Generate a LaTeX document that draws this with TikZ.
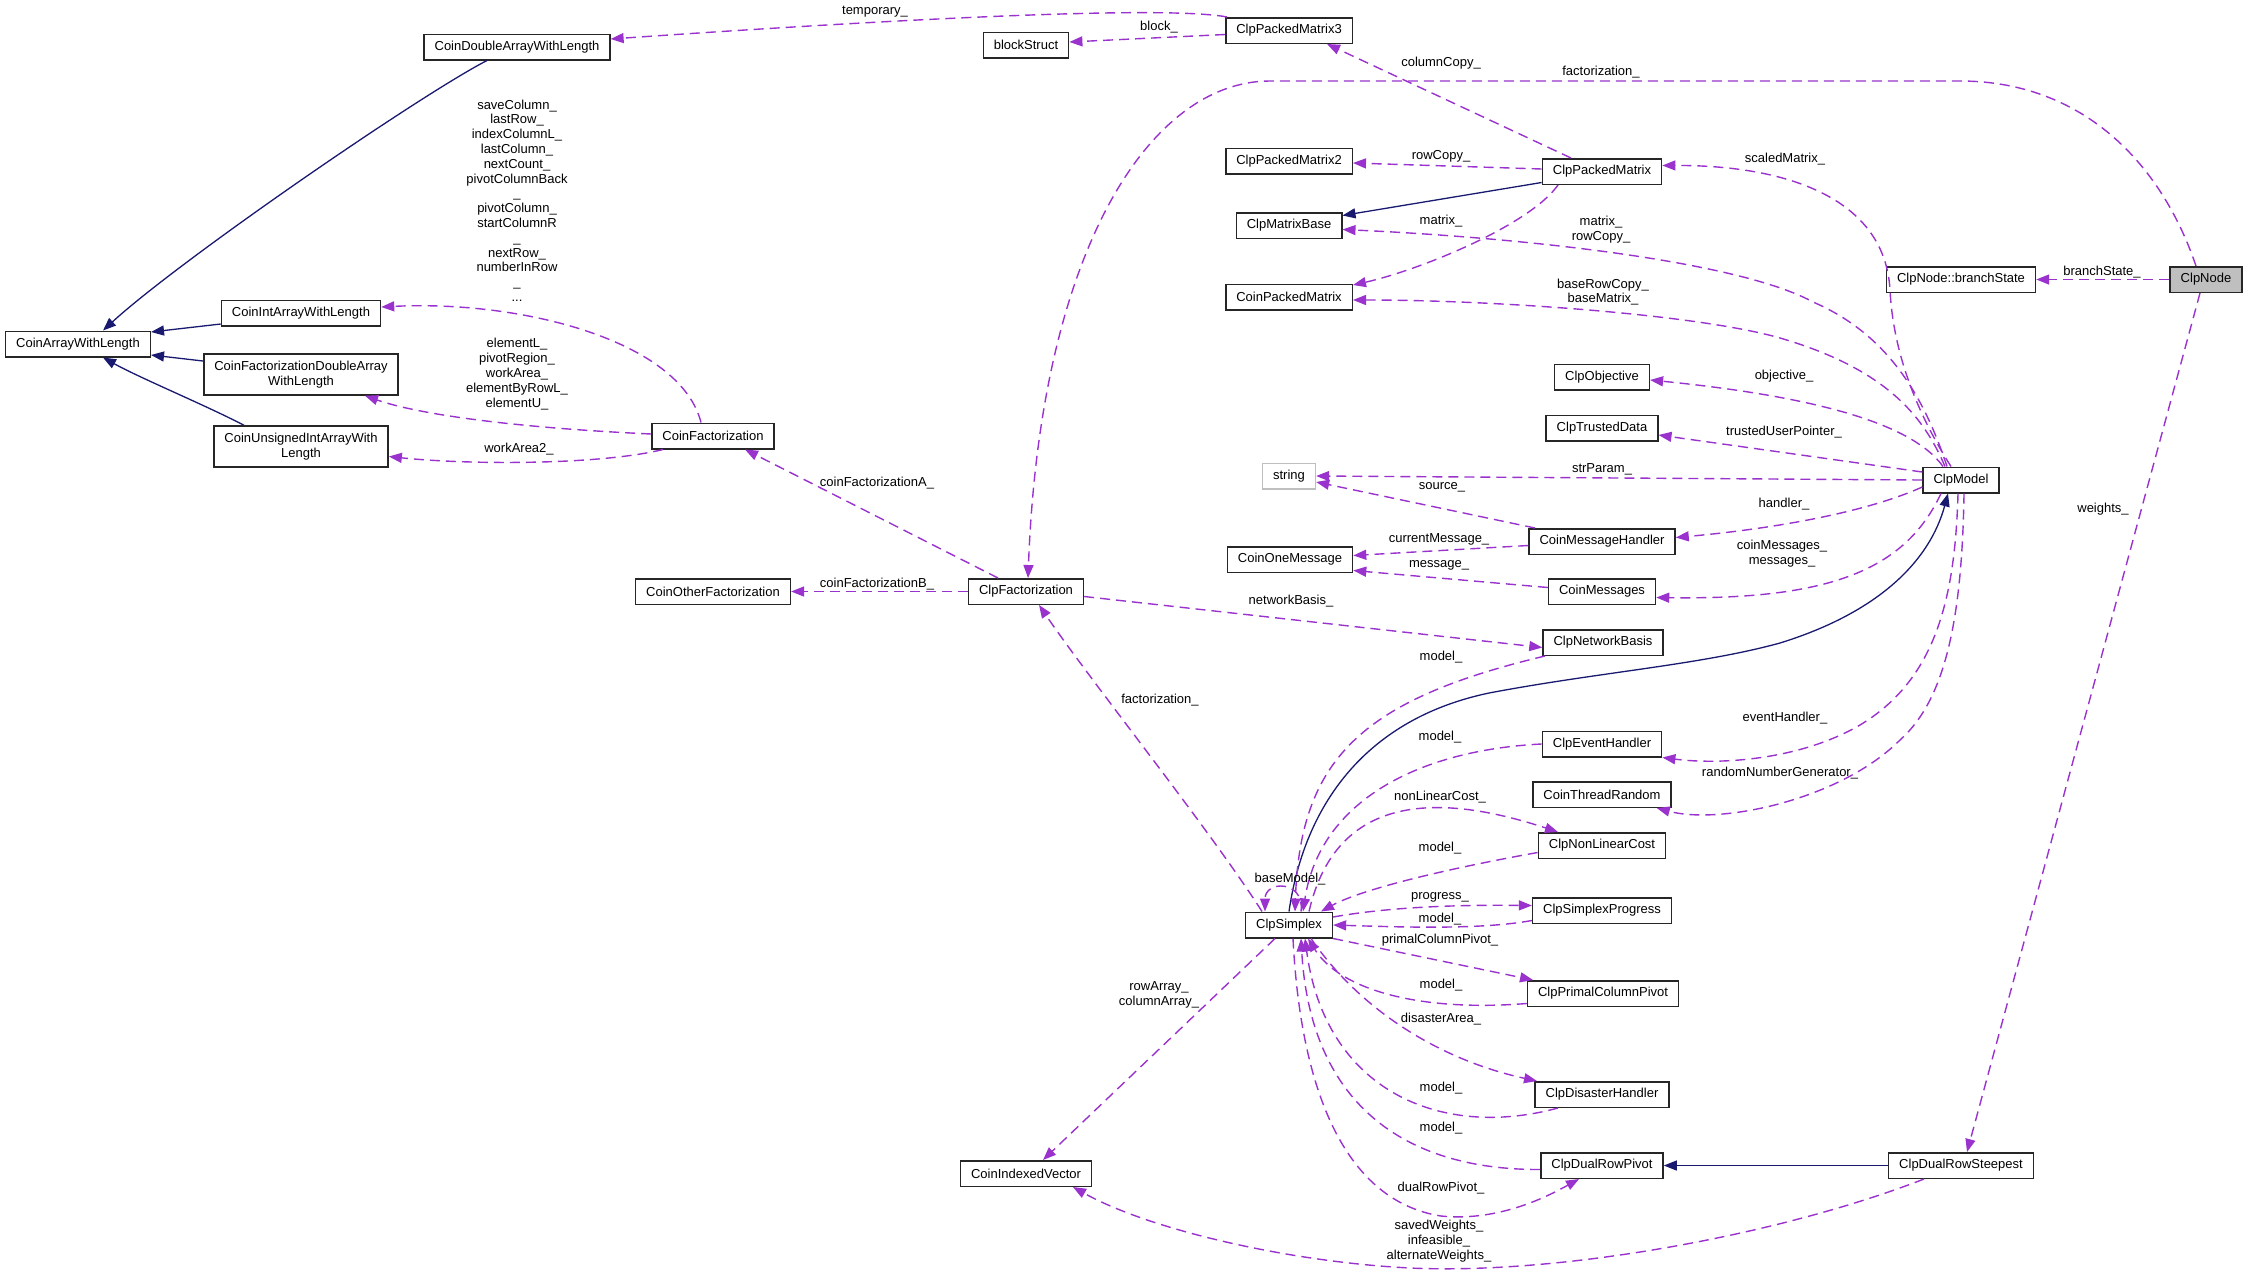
\documentclass[tikz,border=0pt]{standalone}
\usepackage{fontspec}
\setmainfont{Liberation Sans}
\usepackage{xcolor}
\usepackage{tikz}
\usetikzlibrary{arrows.meta}
\definecolor{dxpurple}{RGB}{154,50,205}
\definecolor{dxnavy}{RGB}{25,25,112}
\definecolor{dxgray}{RGB}{191,191,191}

\begin{document}
\begin{tikzpicture}[x=1pt, y=-1pt,
      cls/.style={draw=black!85, line width=1.5pt, fill=white,
                  font=\fontsize{13}{14.5}\selectfont, align=center,
                  inner xsep=10.5pt, inner ysep=0pt, minimum height=25.5pt},
      ext/.style={cls, draw=dxgray},
      cur/.style={cls, fill=dxgray},
      lbl/.style={font=\fontsize{13}{14.8}\selectfont, align=center, inner sep=0pt},
      inh/.style={-{Triangle[length=13pt,width=10pt]}, line width=1.3pt, color=dxnavy},
      mem/.style={-{Triangle[length=13pt,width=10pt]}, line width=1.4pt, color=dxpurple,
                  dash pattern=on 10pt off 6pt, text=black}
  ]
    \useasboundingbox (0,0) rectangle (2248,1275);
    \node[cls] (cawl) at (78,344) {CoinArrayWithLength};
    \node[cls] (cdawl) at (517,47) {CoinDoubleArrayWithLength};
    \node[cls] (ciawl) at (301,313) {CoinIntArrayWithLength};
    \node[cls, minimum height=41pt] (cfdawl) at (301,374.5) {CoinFactorizationDoubleArray\\WithLength};
    \node[cls, minimum height=41pt] (cuiawl) at (301,446.5) {CoinUnsignedIntArrayWith\\Length};
    \node[cls] (cf) at (713,436) {CoinFactorization};
    \node[cls] (cof) at (713,591.5) {CoinOtherFactorization};
    \node[cls] (clpf) at (1026,591.5) {ClpFactorization};
    \node[cls] (bs) at (1026,45) {blockStruct};
    \node[cls] (civ) at (1026,1173.5) {CoinIndexedVector};
    \node[cls] (pm3) at (1289,30.5) {ClpPackedMatrix3};
    \node[cls] (pm2) at (1289,161) {ClpPackedMatrix2};
    \node[cls] (mb) at (1289,225.5) {ClpMatrixBase};
    \node[cls] (cpm) at (1289,297) {CoinPackedMatrix};
    \node[ext] (str) at (1289,476) {string};
    \node[cls] (com) at (1290,559.5) {CoinOneMessage};
    \node[cls] (simplex) at (1289,925) {ClpSimplex};
    \node[cls] (pm) at (1602,171.5) {ClpPackedMatrix};
    \node[cls] (obj) at (1602,377) {ClpObjective};
    \node[cls] (trust) at (1602,428) {ClpTrustedData};
    \node[cls] (cmh) at (1602,541.5) {CoinMessageHandler};
    \node[cls] (cms) at (1602,591.5) {CoinMessages};
    \node[cls] (nb) at (1603,642.5) {ClpNetworkBasis};
    \node[cls] (eh) at (1602,744) {ClpEventHandler};
    \node[cls] (ctr) at (1602,794.5) {CoinThreadRandom};
    \node[cls] (nlc) at (1602,845.5) {ClpNonLinearCost};
    \node[cls] (sp) at (1602,910.5) {ClpSimplexProgress};
    \node[cls] (pcp) at (1603,993.5) {ClpPrimalColumnPivot};
    \node[cls] (dh) at (1602,1094.5) {ClpDisasterHandler};
    \node[cls] (drp) at (1602,1165.5) {ClpDualRowPivot};
    \node[cls] (model) at (1961,480) {ClpModel};
    \node[cls] (bstate) at (1961,279.5) {ClpNode::branchState};
    \node[cls] (drs) at (1961,1165.5) {ClpDualRowSteepest};
    \node[cur] (clpnode) at (2206,279.5) {ClpNode};

    \draw[inh] ([xshift=-30pt]cdawl.south) .. controls (420,95) and (180,260) .. ([xshift=25pt]cawl.north);
    \draw[inh] ([yshift=-11pt]ciawl.west) -- ([yshift=12pt]cawl.east);
    \draw[inh] ([yshift=13.5pt]cfdawl.west) -- ([yshift=-11pt]cawl.east);
    \draw[inh] ([xshift=-57pt]cuiawl.north) .. controls (205,405) and (140,378) .. ([xshift=25pt]cawl.south);
    \draw[inh] ([yshift=-11pt]pm.west) -- ([yshift=10pt]mb.east);
    \draw[inh] (simplex.north) .. controls (1305,800) and (1370,718) .. (1489,693)
      .. controls (1600,672) and (1700,665) .. (1780,643)
      .. controls (1880,612) and (1930,560) .. ([xshift=-13pt]model.south);
    \draw[inh] (drs) -- (drp);

    \draw[mem] ([xshift=2pt]pm3.north west) .. controls (1180,8) and (1000,12) .. ([yshift=8pt]cdawl.east)
      node[lbl] (lTemporary) at (875,12) {temporary\_};
    \draw[mem] ([yshift=-4pt]pm3.west) -- ([yshift=3pt]bs.east)
      node[lbl] (lBlock) at (1159,27) {block\_};
    \draw[mem] ([xshift=-31pt]pm.north) -- ([xshift=38pt]pm3.south)
      node[lbl] (lColumnCopy) at (1441,63) {columnCopy\_};
    \draw[mem] ([yshift=2.5pt]pm.west) -- ([yshift=-2pt]pm2.east)
      node[lbl] (lRowCopy) at (1441,156) {rowCopy\_};
    \draw[mem] ([xshift=-44pt]pm.south) .. controls (1530,225) and (1420,270) .. ([yshift=12pt]cpm.east)
      node[lbl] (lMatrix) at (1441,221) {matrix\_};
    \draw[mem] ([xshift=-10pt]model.north) .. controls (1915,410) and (1893,350) .. (1890,290)
      .. controls (1885,200) and (1790,165) .. ([yshift=6pt]pm.east)
      node[lbl] (lScaled) at (1785,159) {scaledMatrix\_};
    \draw[mem] ([xshift=-14pt]model.north) .. controls (1925,400) and (1890,335) .. (1813,302)
      .. controls (1740,262) and (1530,238) .. ([yshift=-4pt]mb.east)
      node[lbl] (lMatrixRow) at (1601,230) {matrix\_\\rowCopy\_};
    \draw[mem] ([xshift=-16pt]model.north) .. controls (1925,420) and (1890,370) .. (1780,338)
      .. controls (1700,315) and (1500,300) .. ([yshift=-3pt]cpm.east)
      node[lbl] (lBase) at (1603,292) {baseRowCopy\_\\baseMatrix\_};
    \draw[mem] ([xshift=-18pt]model.north) .. controls (1910,420) and (1800,395) .. ([yshift=-3pt]obj.east)
      node[lbl] (lObjective) at (1784,376) {objective\_};
    \draw[mem] ([yshift=8pt]model.west) -- ([yshift=-7pt]trust.east)
      node[lbl] (lTrusted) at (1784,432) {trustedUserPointer\_};
    \draw[mem] (model.west) -- (str.east)
      node[lbl] (lStrParam) at (1602,469) {strParam\_};
    \draw[mem] ([xshift=-67pt]cmh.north) -- ([yshift=-6pt]str.east)
      node[lbl] (lSource) at (1442,487) {source\_};
    \draw[mem] ([yshift=-7pt]model.west) .. controls (1860,515) and (1760,530) .. ([yshift=4pt]cmh.east)
      node[lbl] (lHandler) at (1784,504) {handler\_};
    \draw[mem] ([yshift=-4pt]cmh.west) -- ([yshift=4pt]com.east)
      node[lbl] (lCurrent) at (1439,539) {currentMessage\_};
    \draw[mem] ([yshift=4pt]cms.west) -- ([yshift=-11pt]com.east)
      node[lbl] (lMessage) at (1439,565) {message\_};
    \draw[mem] ([xshift=-20pt]model.south) .. controls (1905,570) and (1830,600) .. ([yshift=-6pt]cms.east)
      node[lbl] (lMessages) at (1782,554) {coinMessages\_\\messages\_};
    \draw[mem] ([xshift=-28pt]clpf.north) -- ([xshift=32pt]cf.south)
      node[lbl] (lFactA) at (877,483) {coinFactorizationA\_};
    \draw[mem] (clpf.west) -- (cof.east)
      node[lbl] (lFactB) at (877,584) {coinFactorizationB\_};
    \draw[mem] ([xshift=-12pt]cf.north) .. controls (680,340) and (520,300) .. ([yshift=6pt]ciawl.east)
      node[lbl] (lIntArrays) at (517,200.5) {saveColumn\_\\lastRow\_\\indexColumnL\_\\lastColumn\_\\nextCount\_\\pivotColumnBack\\\_\\pivotColumn\_\\startColumnR\\\_\\nextRow\_\\numberInRow\\\_\\...};
    \draw[mem] ([yshift=2pt]cf.west) .. controls (520,428) and (420,415) .. ([xshift=64pt]cfdawl.south)
      node[lbl] (lDoubleArrays) at (517,374) {elementL\_\\pivotRegion\_\\workArea\_\\elementByRowL\_\\elementU\_};
    \draw[mem] ([xshift=-50pt]cf.south) .. controls (600,465) and (470,465) .. ([yshift=-10pt]cuiawl.east)
      node[lbl] (lWorkArea) at (519,449) {workArea2\_};
    \draw[mem] ([xshift=-10pt]clpnode.north) .. controls (2160,160) and (2080,81) .. (1960,81) -- (1270,81)
      .. controls (1150,81) and (1040,250) .. ([xshift=2pt]clpf.north)
      node[lbl] (lNodeFact) at (1601,72) {factorization\_};
    \draw[mem] (clpnode) -- (bstate)
      node[lbl] (lBranch) at (2102,272) {branchState\_};
    \draw[mem] ([xshift=-6pt]clpnode.south) -- ([xshift=6pt]drs.north)
      node[lbl] (lWeights) at (2103,509) {weights\_};
    \draw[mem] ([yshift=-5pt]clpf.east) -- ([yshift=-5pt]nb.west)
      node[lbl] (lNetwork) at (1291,601) {networkBasis\_};
    \draw[mem] ([xshift=-58pt]nb.south) .. controls (1360,700) and (1300,760) .. ([xshift=6pt]simplex.north)
      node[lbl] (lModelNb) at (1441,657) {model\_};
    \draw[mem] ([xshift=-27pt]simplex.north) .. controls (1210,830) and (1090,680) .. ([xshift=13pt]clpf.south)
      node[lbl] (lSimplexFact) at (1160,700) {factorization\_};
    \draw[mem] ([xshift=12pt]simplex.north) .. controls (1305,880) and (1265,880) .. ([xshift=-24pt]simplex.north)
      node[lbl] (lBaseModel) at (1290,879) {baseModel\_};
    \draw[mem] (eh.west) .. controls (1420,750) and (1320,800) .. ([xshift=14pt]simplex.north)
      node[lbl] (lModelEh) at (1440,737) {model\_};
    \draw[mem] ([xshift=20pt]simplex.north) .. controls (1330,820) and (1400,780) .. ([xshift=-44pt]nlc.north)
      node[lbl] (lNonLinear) at (1440,797) {nonLinearCost\_};
    \draw[mem] ([yshift=-7pt]nlc.west) .. controls (1440,870) and (1360,890) .. ([xshift=32pt]simplex.north)
      node[lbl] (lModelNlc) at (1440,848) {model\_};
    \draw[mem] ([yshift=8pt]simplex.east) .. controls (1400,905) and (1480,905) .. ([yshift=5pt]sp.west)
      node[lbl] (lProgress) at (1440,897) {progress\_};
    \draw[mem] ([yshift=-10pt]sp.west) .. controls (1480,930) and (1400,927) .. (simplex.east)
      node[lbl] (lModelSp) at (1440,919) {model\_};
    \draw[mem] (simplex.south east) -- ([xshift=-70pt]pcp.north)
      node[lbl] (lPrimal) at (1440,940) {primalColumnPivot\_};
    \draw[mem] ([yshift=-10pt]pcp.west) .. controls (1420,1012) and (1340,990) .. ([xshift=19pt]simplex.south)
      node[lbl] (lModelPcp) at (1441,985) {model\_};
    \draw[mem] ([xshift=22pt]simplex.south) .. controls (1360,1010) and (1440,1060) .. ([xshift=-65pt]dh.north)
      node[lbl] (lDisaster) at (1441,1019) {disasterArea\_};
    \draw[mem] ([xshift=-44pt]dh.south) .. controls (1440,1140) and (1325,1090) .. ([xshift=16pt]simplex.south)
      node[lbl] (lModelDh) at (1441,1088) {model\_};
    \draw[mem] ([yshift=-4pt]drp.west) .. controls (1400,1170) and (1310,1100) .. ([xshift=12pt]simplex.south)
      node[lbl] (lModelDrp) at (1441,1128) {model\_};
    \draw[mem] ([xshift=4pt]simplex.south) .. controls (1300,1080) and (1340,1200) .. (1441,1216)
      .. controls (1500,1222) and (1550,1195) .. ([xshift=-23pt]drp.south)
      node[lbl] (lDualRow) at (1441,1188) {dualRowPivot\_};
    \draw[mem] ([xshift=-14pt]simplex.south) -- ([xshift=17pt]civ.north)
      node[lbl] (lArrays) at (1159,995) {rowArray\_\\columnArray\_};
    \draw[mem] ([xshift=-37pt]drs.south) .. controls (1780,1235) and (1560,1275) .. (1410,1268)
      .. controls (1290,1262) and (1150,1230) .. ([xshift=47pt]civ.south)
      node[lbl] (lWeightsAll) at (1439,1241) {savedWeights\_\\infeasible\_\\alternateWeights\_};
    \draw[mem] ([xshift=-3pt]model.south) .. controls (1955,600) and (1935,680) .. (1860,725)
      .. controls (1800,760) and (1720,765) .. (eh.south east)
      node[lbl] (lEvent) at (1785,718) {eventHandler\_};
    \draw[mem] ([xshift=3pt]model.south) .. controls (1962,620) and (1945,700) .. (1900,740)
      .. controls (1840,800) and (1720,825) .. ([xshift=-15pt]ctr.south east)
      node[lbl] (lRandom) at (1780,773) {randomNumberGenerator\_};
  \end{tikzpicture}
\end{document}
